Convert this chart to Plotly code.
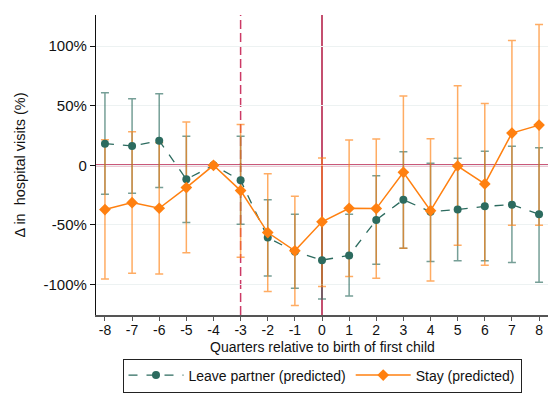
import plotly.graph_objects as go

quarters = list(range(-8, 9))

leave = [18.1, 16.2, 20.6, -11.7, 0, -12.6, -60.6, -72.3, -79.5, -75.6, -45.8, -28.8, -39.0, -37.1, -34.4, -33.0, -41.0]
leave_hi = [60.8, 55.7, 59.9, 24.3, None, 24.3, -28.8, -41.0, -47.0, -41.0, -8.7, 11.4, 1.7, 6.0, 11.7, 16.0, 14.7]
leave_lo = [-24.3, -23.4, -18.7, -48.0, None, -49.5, -92.9, -103.0, -112.0, -109.6, -82.9, -69.5, -80.6, -80.0, -80.0, -81.5, -98.0]

stay = [-37.1, -31.3, -36.0, -18.7, 0, -21.2, -56.4, -71.7, -47.4, -36.0, -36.3, -5.9, -38.0, -0.6, -15.6, 27.0, 33.7]
stay_hi = [21.4, 28.1, 18.9, 36.2, None, 34.3, -7.0, -26.0, 6.1, 21.2, 22.0, 58.0, 22.3, 66.6, 51.9, 104.6, 118.0]
stay_lo = [-95.4, -90.4, -91.2, -73.4, None, -77.0, -105.8, -117.5, -101.6, -93.2, -94.6, -69.5, -97.0, -67.0, -83.7, -50.3, -50.3]

y_ticks = [-100, -50, 0, 50, 100]
y_labels = ["-100%", "-50%", "0", "50%", "100%"]

GREEN = "#2c6b5f"
ORANGE = "#ff8010"


def plus(hi, v):
    return [0 if h is None else h - x for h, x in zip(hi, v)]


def minus(lo, v):
    return [0 if l is None else x - l for l, x in zip(lo, v)]


fig = go.Figure()

fig.add_trace(go.Scatter(
    x=quarters, y=leave, mode="markers", marker=dict(size=0.1, color="rgba(0,0,0,0)"),
    error_y=dict(type="data", array=plus(leave_hi, leave), arrayminus=minus(leave_lo, leave),
                 color="rgba(44,107,95,0.65)", thickness=1.5, width=4),
    showlegend=False, hoverinfo="skip"))
fig.add_trace(go.Scatter(
    x=quarters, y=stay, mode="markers", marker=dict(size=0.1, color="rgba(0,0,0,0)"),
    error_y=dict(type="data", array=plus(stay_hi, stay), arrayminus=minus(stay_lo, stay),
                 color="rgba(255,128,16,0.65)", thickness=1.5, width=4),
    showlegend=False, hoverinfo="skip"))

fig.add_trace(go.Scatter(
    x=quarters, y=leave, mode="lines+markers", name="Leave partner (predicted)",
    line=dict(color=GREEN, width=1.3, dash="dash"),
    marker=dict(symbol="circle", size=8, color=GREEN)))
fig.add_trace(go.Scatter(
    x=quarters, y=stay, mode="lines+markers", name="Stay (predicted)",
    line=dict(color=ORANGE, width=1.5),
    marker=dict(symbol="diamond", size=9, color=ORANGE)))

fig.add_shape(type="line", xref="x", yref="paper", x0=-3, x1=-3, y0=0, y1=1,
              line=dict(color="#cc3a66", width=1.5, dash="9px,4px"), layer="below")
fig.add_shape(type="line", xref="x", yref="paper", x0=0, x1=0, y0=0, y1=1,
              line=dict(color="#b0143f", width=1.5), layer="below")
fig.add_shape(type="line", xref="paper", yref="y", x0=0, x1=1, y0=0, y1=0,
              line=dict(color="#b8204d", width=2), layer="below")

fig.add_annotation(text="Quarters relative to birth of first child", xref="paper", yref="paper",
                   x=0.5, y=-0.105, xanchor="center", yanchor="middle", showarrow=False,
                   font=dict(size=14))

fig.update_layout(
    width=548, height=399,
    margin=dict(l=96, r=0, t=15, b=84),
    paper_bgcolor="white", plot_bgcolor="white",
    font=dict(family="Liberation Sans, Arial, sans-serif", size=15, color="#111"),
    showlegend=True,
    legend=dict(orientation="h", x=0.5, xanchor="center", y=-0.145, yanchor="top",
                bordercolor="#222", borderwidth=1, font=dict(size=14),
                itemwidth=55, tracegroupgap=0),
)
fig.update_xaxes(
    range=[-8.33, 8.33], tickmode="array", tickvals=quarters,
    ticktext=[str(q) for q in quarters], tickfont=dict(size=14),
    showgrid=False, zeroline=False,
    showline=True, linecolor="#555", linewidth=1.5,
    ticks="outside", ticklen=4, tickcolor="#555", ticklabelstandoff=-3,
)
fig.update_yaxes(
    range=[-125.5, 126], tickmode="array", tickvals=y_ticks, ticktext=y_labels,
    tickfont=dict(size=15),
    showgrid=True, gridcolor="#edf2f2", gridwidth=1, zeroline=False,
    showline=True, linecolor="#111", linewidth=1.2,
    ticks="outside", ticklen=5, tickcolor="#111",
    title=dict(text="Δ in  hospital visits (%)", font=dict(size=14.5), standoff=14),
)

fig.write_html("out.html")
